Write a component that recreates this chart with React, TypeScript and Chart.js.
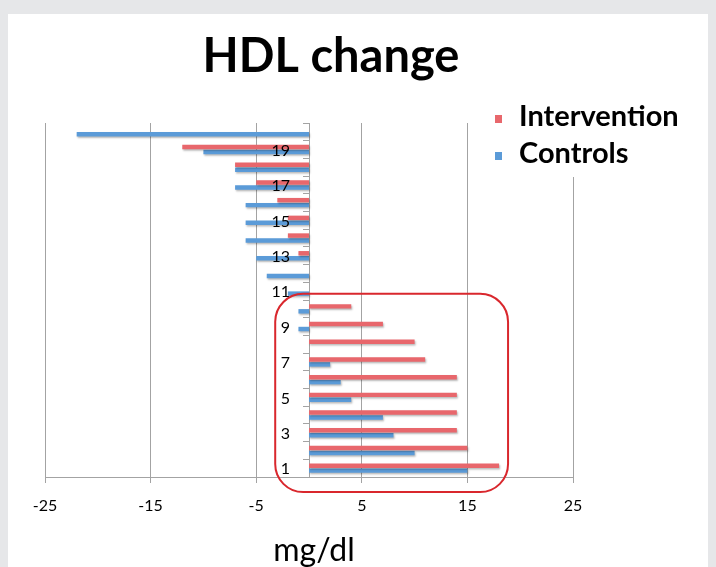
import React, { useEffect, useRef } from 'react';
import { Chart, registerables } from 'chart.js';

Chart.register(...registerables);

// ---- data ----
const categories = ['1', '2', '3', '4', '5', '6', '7', '8', '9', '10', '11', '12', '13', '14', '15', '16', '17', '18', '19', '20'];
const intervention = [18, 15, 14, 14, 14, 14, 11, 10, 7, 4, 0, 0, -1, -2, -2, -3, -5, -7, -12, 0];
const controls = [15, 10, 8, 7, 4, 3, 2, 0, -1, -1, -2, -4, -5, -6, -6, -6, -7, -7, -10, -22];
const xTickValues = [-25, -15, -5, 5, 15, 25];
const shownCategoryLabels = ['1', '3', '5', '7', '9', '11', '13', '15', '17', '19'];
const seriesNames = ['Intervention', 'Controls'];
const titleText = 'HDL change';
const xAxisTitle = 'mg/dl';
// highlight box in data units (x value range, category index range)
const highlightBox = { xMin: -3.2, xMax: 18.85, yMin: -1.35, yMax: 9.85 };

const RED = '#e8676c';
const BLUE = '#5b9bd8';
const GRID = '#a3a3a3';
const FONT = 'Lato, Carlito, "Open Sans", sans-serif';

const decorPlugin = {
  id: 'decor',
  beforeDraw(chart: any) {
    const { ctx, width, height } = chart;
    ctx.save();
    ctx.fillStyle = '#e6e7e9';
    ctx.fillRect(0, 0, width, height);
    ctx.fillStyle = '#ffffff';
    ctx.fillRect(8, 14, 700, height - 14);
    ctx.restore();
  },
  beforeDatasetsDraw(chart: any) {
    const { ctx } = chart;
    ctx.save();
    ctx.shadowColor = 'rgba(0,0,0,0.28)';
    ctx.shadowBlur = 2;
    ctx.shadowOffsetX = 1;
    ctx.shadowOffsetY = 1.5;
  },
  afterDatasetsDraw(chart: any) {
    const { ctx, scales } = chart;
    ctx.restore();
    const x = scales.x;
    const y = scales.y;
    const left = x.getPixelForValue(highlightBox.xMin);
    const right = x.getPixelForValue(highlightBox.xMax);
    const top = y.getPixelForValue(highlightBox.yMax);
    const bottom = y.getPixelForValue(highlightBox.yMin);
    ctx.save();
    ctx.strokeStyle = '#d9272d';
    ctx.lineWidth = 2;
    ctx.beginPath();
    ctx.roundRect(left, top, right - left, bottom - top, 28);
    ctx.stroke();
    ctx.restore();

    // category labels, drawn over the bars next to the zero axis
    const x0 = x.getPixelForValue(0);
    ctx.save();
    ctx.fillStyle = '#000000';
    ctx.textAlign = 'right';
    ctx.textBaseline = 'middle';
    ctx.font = `16px ${FONT}`;
    categories.forEach((c, i) => {
      if (shownCategoryLabels.includes(c)) {
        ctx.fillText(c, x0 - 19, y.getPixelForValue(i) + 1);
      }
    });
    ctx.restore();
  },
  afterDraw(chart: any) {
    const { ctx } = chart;
    ctx.save();
    // title
    ctx.fillStyle = '#000000';
    ctx.textAlign = 'center';
    ctx.textBaseline = 'alphabetic';
    ctx.font = `bold 47px ${FONT}`;
    ctx.fillText(titleText, 331, 72);
    // x axis title
    ctx.font = `32px ${FONT}`;
    ctx.fillText(xAxisTitle, 314, 561);
    // legend
    ctx.fillStyle = '#ffffff';
    ctx.fillRect(482, 88, 226, 89);
    ctx.textAlign = 'left';
    ctx.font = `bold 29px ${FONT}`;
    const ds = chart.data.datasets;
    const rows = [126, 163];
    ds.forEach((d: any, i: number) => {
      ctx.fillStyle = d.backgroundColor;
      ctx.fillRect(495, rows[i] - 11, 7, 8);
      ctx.fillStyle = '#000000';
      ctx.fillText(d.label, 519, rows[i]);
    });
    ctx.restore();
  },
};

export default function App() {
  const canvasRef = useRef<HTMLCanvasElement | null>(null);

  useEffect(() => {
    document.body.style.margin = '0';
    const canvas = canvasRef.current;
    if (!canvas) return;
    const chart = new Chart(canvas, {
      type: 'bar',
      data: {
        labels: categories,
        datasets: [
          { label: seriesNames[0], data: intervention, backgroundColor: RED, borderWidth: 0 },
          { label: seriesNames[1], data: controls, backgroundColor: BLUE, borderWidth: 0 },
        ],
      },
      plugins: [decorPlugin],
      options: {
        indexAxis: 'y',
        animation: false,
        responsive: false,
        devicePixelRatio: 1,
        events: [],
        layout: { padding: { left: 45, right: 143, top: 123, bottom: 0 } },
        datasets: { bar: { categoryPercentage: 0.56, barPercentage: 0.9 } },
        plugins: {
          legend: { display: false },
          title: { display: false },
          tooltip: { enabled: false },
        },
        scales: {
          x: {
            type: 'linear',
            min: -25,
            max: 25,
            afterBuildTicks: (scale: any) => {
              scale.ticks = xTickValues.map((v) => ({ value: v }));
            },
            afterFit: (scale: any) => {
              scale.height = 90;
            },
            grid: { color: GRID, lineWidth: 1, drawTicks: true, tickLength: 6, tickColor: GRID },
            border: { display: true, color: GRID, width: 1 },
            ticks: {
              padding: 13,
              color: '#000000',
              font: { family: FONT, size: 16 },
              maxRotation: 0,
            },
          },
          y: {
            type: 'category',
            reverse: true,
            position: { x: 0 } as any,
            offset: true,
            grid: { display: true, drawOnChartArea: false, drawTicks: true, tickLength: 6, tickColor: GRID, offset: true },
            border: { display: true, color: GRID, width: 1 },
            ticks: { display: false, autoSkip: false },
          },
        },
      } as any,
    });
    return () => chart.destroy();
  }, []);

  return (
    <canvas
      ref={canvasRef}
      width={716}
      height={567}
      style={{ display: 'block', width: 716, height: 567 }}
    />
  );
}
